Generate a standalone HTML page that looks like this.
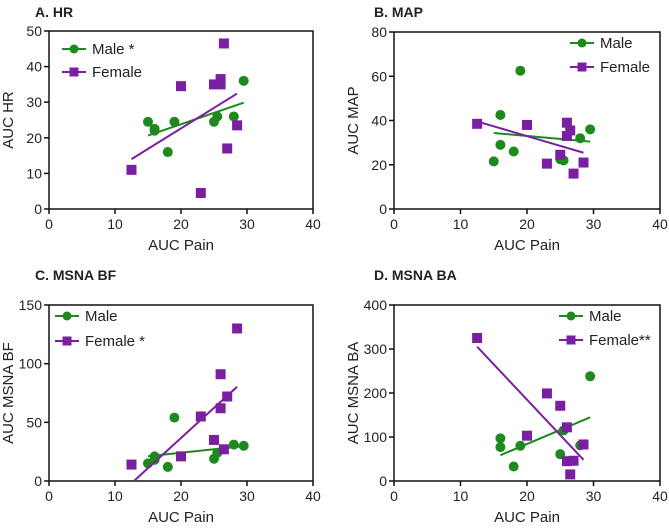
<!DOCTYPE html>
<html><head><meta charset="utf-8"><style>
body{margin:0;background:#fff;}
svg text{font-family:"Liberation Sans",Arial,sans-serif;fill:#222;}
</style></head><body>
<svg id="chart" width="669" height="524" xmlns="http://www.w3.org/2000/svg"></svg>
<script>
const xTicks=[0,10,20,30,40];
const titles=["A. HR","B. MAP","C. MSNA BF","D. MSNA BA"];
const yTitles=["AUC HR","AUC MAP","AUC MSNA BF","AUC MSNA BA"];
const yMaxes=[50,80,150,400];
const yTickSteps=[10,20,50,100];
const maleLabels=["Male *","Male","Male","Male"];
const femaleLabels=["Female","Female","Female *","Female**"];
const maleX_A=[15,16,16,19,18,25,25.5,28,29.5];
const maleY_A=[24.5,22.5,22,24.5,16,24.5,26,26,36];
const femX_A=[12.5,20,23,25,26,26,26.5,27,28.5];
const femY_A=[11,34.5,4.5,35,36.5,35,46.5,17,23.5];
const maleX_B=[15,16,16,18,19,25,25.5,28,29.5];
const maleY_B=[21.5,42.5,29,26,62.5,22.5,22,32,36];
const femX_B=[12.5,20,23,25,26,26,26.5,27,28.5];
const femY_B=[38.5,38,20.5,24.5,39,33,35.5,16,21];
const maleX_C=[15,16,16,18,19,25,25.5,28,29.5];
const maleY_C=[15,21,18,12,54,19,24,31,30];
const femX_C=[12.5,20,23,25,26,26,26.5,27,28.5];
const femY_C=[14,21,55,35,91,62,27,72,130];
const maleX_D=[16,16,18,19,25,25.5,28,29.5];
const maleY_D=[97,77,33,80,61,115,81,238];
const femX_D=[12.5,20,23,25,26,26,26.5,27,28.5];
const femY_D=[325,103,199,171,122,45,15,46,83];

const panels=[
 {x0:49,x1:313,yt:31,yb:209,mx:maleX_A,my:maleY_A,fx:femX_A,fy:femY_A,tx:35,ty:17,lg:{x:62,y1:49,y2:72}},
 {x0:394,x1:660,yt:32,yb:209,mx:maleX_B,my:maleY_B,fx:femX_B,fy:femY_B,tx:374,ty:17,lg:{x:570,y1:43,y2:67}},
 {x0:49,x1:313,yt:305,yb:481,mx:maleX_C,my:maleY_C,fx:femX_C,fy:femY_C,tx:35,ty:280,lg:{x:55,y1:316,y2:341}},
 {x0:394,x1:660,yt:305,yb:481,mx:maleX_D,my:maleY_D,fx:femX_D,fy:femY_D,tx:374,ty:280,lg:{x:559,y1:316,y2:340}}
];
const G="#1e8a1e",P="#7b1fa2";
const svg=document.getElementById('chart');
const NS="http://www.w3.org/2000/svg";
function mk(tag,attrs,parent){const e=document.createElementNS(NS,tag);for(const k in attrs)e.setAttribute(k,attrs[k]);(parent||svg).appendChild(e);return e;}
function fit(xs,ys){const n=xs.length;let sx=0,sy=0,sxx=0,sxy=0;for(let i=0;i<n;i++){sx+=xs[i];sy+=ys[i];sxx+=xs[i]*xs[i];sxy+=xs[i]*ys[i];}const b=(n*sxy-sx*sy)/(n*sxx-sx*sx);return {b:b,a:(sy-b*sx)/n};}
panels.forEach((p,i)=>{
 const g=mk('g',{});
 
 
 const X=v=>p.x0+(p.x1-p.x0)*v/40;
 const Y=v=>p.yb-(p.yb-p.yt)*v/yMaxes[i];
 const t=mk('text',{x:p.tx,y:p.ty,'font-size':'14','font-weight':'bold'},g);t.textContent=titles[i];
 
 const ax=mk('rect',{x:p.x0,y:p.yt,width:p.x1-p.x0,height:p.yb-p.yt,fill:'none',stroke:'#111','stroke-width':'1.5'},g);
 
 xTicks.forEach(v=>{mk('line',{x1:X(v),x2:X(v),y1:p.yb,y2:p.yb+5,stroke:'#111','stroke-width':'1.5'},g);
  const tt=mk('text',{x:X(v),y:p.yb+20,'font-size':'14','text-anchor':'middle'},g);tt.textContent=v;
  });
 for(let v=0;v<=yMaxes[i];v+=yTickSteps[i]){mk('line',{x1:p.x0-5,x2:p.x0,y1:Y(v),y2:Y(v),stroke:'#111','stroke-width':'1.5'},g);
  const tt=mk('text',{x:p.x0-7,y:Y(v)+5,'font-size':'14','text-anchor':'end'},g);tt.textContent=v;
  }
 const xt=mk('text',{x:(p.x0+p.x1)/2,y:p.yb+41,'font-size':'15','text-anchor':'middle'},g);xt.textContent="AUC Pain";
 
 const yc=(p.yt+p.yb)/2,yx=p.x0-36;
 const yt=mk('text',{x:yx,y:yc,'font-size':'15','text-anchor':'middle',transform:`rotate(-90 ${yx} ${yc})`},g);yt.textContent=yTitles[i];
 
 [[p.mx,p.my,G,'male'],[p.fx,p.fy,P,'female']].forEach(([xs,ys,c,nm])=>{
  const f=fit(xs,ys);let xa=Math.min(...xs),xb=Math.max(...xs);
  if(f.a+f.b*xa<0)xa=-f.a/f.b;
  const l=mk('line',{x1:X(xa),y1:Y(f.a+f.b*xa),x2:X(xb),y2:Y(f.a+f.b*xb),stroke:c,'stroke-width':'2'},g);
  
  xs.forEach((xv,k)=>{let m;
   if(nm==='male')m=mk('circle',{cx:X(xv),cy:Y(ys[k]),r:5,fill:c},g);
   else m=mk('rect',{x:X(xv)-5,y:Y(ys[k])-5,width:10,height:10,fill:c},g);
   });
 });
 [[p.lg.y1,G,maleLabels[i],'male'],[p.lg.y2,P,femaleLabels[i],'female']].forEach(([yy,c,lab,nm])=>{
  const lg=mk('g',{},g);
  mk('line',{x1:p.lg.x,x2:p.lg.x+24,y1:yy,y2:yy,stroke:c,'stroke-width':'2'},lg);
  if(nm==='male')mk('circle',{cx:p.lg.x+12,cy:yy,r:4.5,fill:c},lg);else mk('rect',{x:p.lg.x+7.5,y:yy-4.5,width:9,height:9,fill:c},lg);
  const tx=mk('text',{x:p.lg.x+30,y:yy+5,'font-size':'15'},lg);tx.textContent=lab;
 });
});
</script>
</body></html>
